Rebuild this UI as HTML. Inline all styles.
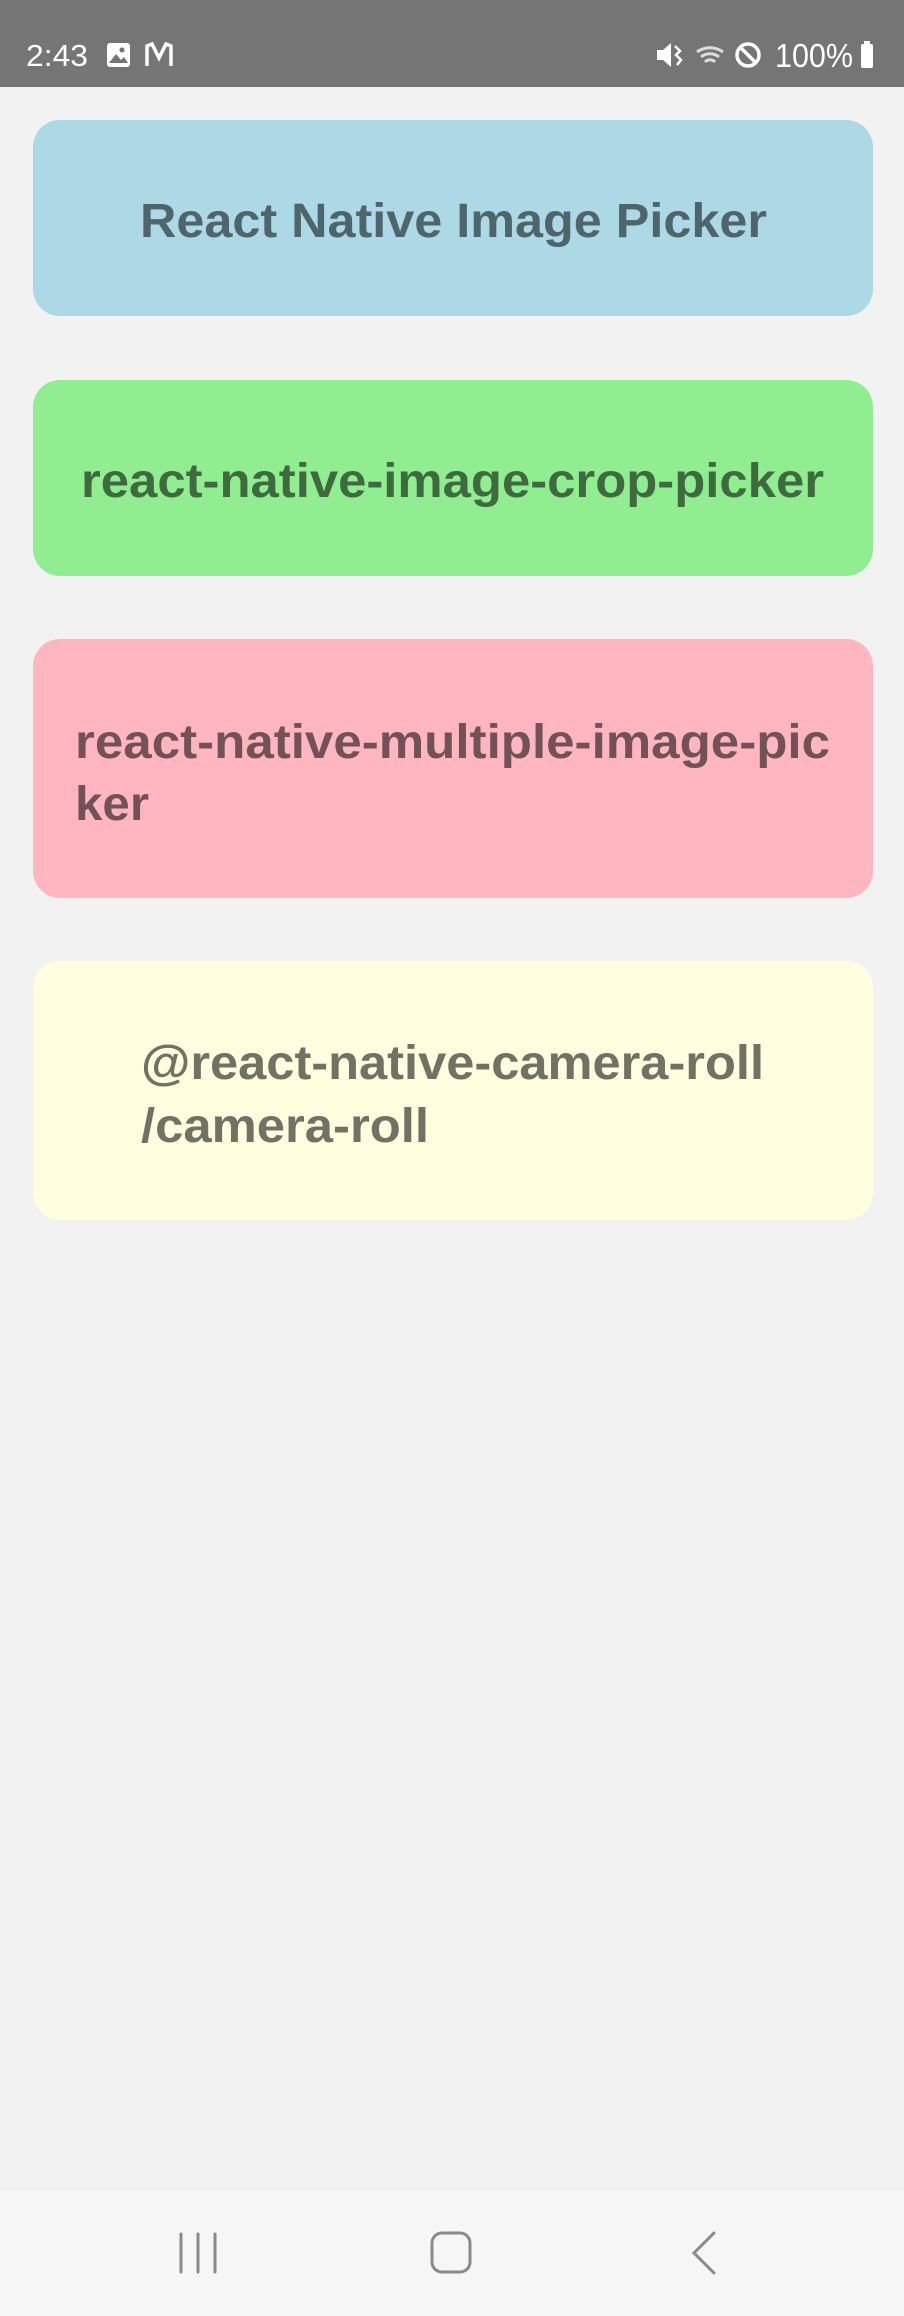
<!DOCTYPE html>
<html><head><meta charset="utf-8"><style>
html,body{margin:0;padding:0;width:904px;height:2316px;background:#f2f2f2;overflow:hidden;font-family:"Liberation Sans",sans-serif}
svg{display:block}
</style></head><body>
<svg width="904" height="2316" viewBox="0 0 904 2316" xmlns="http://www.w3.org/2000/svg" font-family="Liberation Sans, sans-serif">
<rect x="0" y="0" width="904" height="2316" fill="#f2f2f2"/>
<rect x="0" y="0" width="904" height="87" fill="#757575"/>
<text x="26" y="66" font-size="31" fill="#fff" textLength="62" lengthAdjust="spacingAndGlyphs">2:43</text>
<rect x="107" y="43" width="23" height="24" rx="3" fill="#fff"/>
<path d="M109 63 L116 54 L121 60 L124 57 L128 63 Z" fill="#757575"/>
<circle cx="122" cy="50" r="2.5" fill="#757575"/>
<path d="M147 66 V46 L152 44 L159 58 L166 44 L171 46 V66" fill="none" stroke="#fff" stroke-width="3.5"/>
<path d="M657 50 h6 l8 -7 v24 l-8 -7 h-6 z" fill="#fff"/>
<path d="M675 46 l5 5 -4 4 5 5 -4 5" fill="none" stroke="#fff" stroke-width="2.5"/>
<path d="M697 52 a22 22 0 0 1 26 0 M701 57 a14 14 0 0 1 18 0 M705 62 a7 7 0 0 1 10 0" fill="none" stroke="#ddd" stroke-width="3"/>
<circle cx="748" cy="55" r="11" fill="none" stroke="#fff" stroke-width="3.5"/>
<line x1="741" y1="48" x2="755" y2="62" stroke="#fff" stroke-width="3.5"/>
<text x="775" y="67" font-size="33" fill="#fff" textLength="78" lengthAdjust="spacingAndGlyphs">100%</text>
<rect x="861" y="44" width="12" height="24" rx="2" fill="#fff"/>
<rect x="864" y="41" width="6" height="4" fill="#fff"/>

<rect x="33" y="120" width="840" height="196" rx="27" fill="#add8e6"/>
<text x="140" y="237" font-size="48" font-weight="bold" fill="#4f656c" textLength="627" lengthAdjust="spacingAndGlyphs">React Native Image Picker</text>

<rect x="33" y="380" width="840" height="196" rx="27" fill="#90ee90"/>
<text x="81" y="497" font-size="48" font-weight="bold" fill="#3f6a3f" textLength="743" lengthAdjust="spacingAndGlyphs">react-native-image-crop-picker</text>

<rect x="33" y="639" width="840" height="259" rx="27" fill="#ffb6c1"/>
<text x="75" y="758" font-size="48" font-weight="bold" fill="#735257" textLength="755" lengthAdjust="spacingAndGlyphs">react-native-multiple-image-pic</text>
<text x="75" y="820" font-size="48" font-weight="bold" fill="#735257" textLength="74" lengthAdjust="spacingAndGlyphs">ker</text>

<rect x="33" y="961" width="840" height="259" rx="27" fill="#ffffe0"/>
<text x="141" y="1079" font-size="48" font-weight="bold" fill="#717164" textLength="623" lengthAdjust="spacingAndGlyphs">@react-native-camera-roll</text>
<text x="141" y="1142" font-size="48" font-weight="bold" fill="#717164" textLength="288" lengthAdjust="spacingAndGlyphs">/camera-roll</text>

<rect x="0" y="2190" width="904" height="126" fill="#f6f6f6"/>
<g stroke="#8a8a8a" stroke-width="3" stroke-linecap="round" fill="none">
<line x1="181" y1="2234" x2="181" y2="2272"/>
<line x1="198" y1="2234" x2="198" y2="2272"/>
<line x1="215" y1="2234" x2="215" y2="2272"/>
<rect x="432" y="2233" width="38" height="39" rx="10"/>
<path d="M714 2233 L694 2253 L714 2273"/>
</g>
</svg>
</body></html>
